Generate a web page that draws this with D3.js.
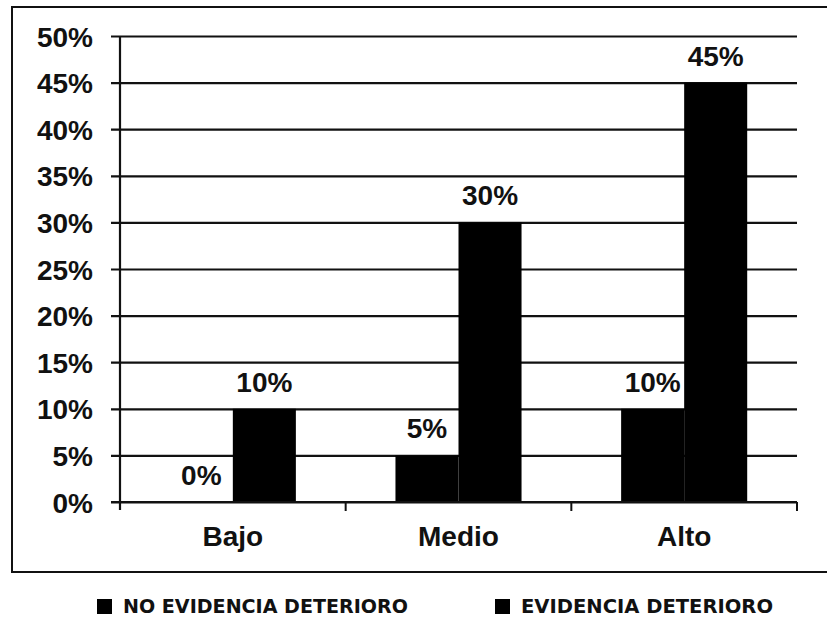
<!DOCTYPE html>
<html>
<head>
<meta charset="utf-8">
<script src="https://cdn.jsdelivr.net/npm/d3@7"></script>
<style>
  html, body { margin: 0; padding: 0; background: #fff; }
  svg { display: block; }
</style>
</head>
<body>
<svg id="chart" width="827" height="617"></svg>
<script>
// Categories, series and axis ticks
const categories = ["Bajo", "Medio", "Alto"];
const seriesNames = ["NO EVIDENCIA DETERIORO", "EVIDENCIA DETERIORO"];
const noEvidencia = [0, 5, 10];
const evidencia = [10, 30, 45];
const yTicks = [0, 5, 10, 15, 20, 25, 30, 35, 40, 45, 50];

const svg = d3.select("#chart");
const ink = "#111";
const font = "'Liberation Sans', Arial, sans-serif";
const bigSize = 28;

const plot = { left: 120, right: 797, top: 36, bottom: 502 };

// Outer frame
svg.append("rect")
  .attr("x", 12).attr("y", 7)
  .attr("width", 830).attr("height", 565)
  .attr("fill", "none").attr("stroke", ink).attr("stroke-width", 2);

const x = d3.scaleBand().domain(categories).range([plot.left, plot.right]);
const xs = d3.scaleBand().domain(seriesNames)
  .range([0, x.bandwidth()]).paddingInner(0).paddingOuter(0.79);
const y = d3.scaleLinear().domain([0, 50]).range([plot.bottom, plot.top]);

// Horizontal gridlines with y axis ticks
const yAxis = d3.axisLeft(y).tickValues(yTicks)
  .tickSize(plot.right - plot.left + 9)
  .tickFormat(d => d + "%");
const yg = svg.append("g")
  .attr("transform", `translate(${plot.right},0)`)
  .call(yAxis);
yg.select(".domain").remove();
yg.selectAll(".tick line").attr("stroke", ink).attr("stroke-width", 2.2);
yg.selectAll(".tick text")
  .attr("x", -(plot.right - plot.left) - 27)
  .attr("dy", "0.36em")
  .attr("font-family", font).attr("font-weight", "bold")
  .attr("font-size", bigSize).attr("fill", ink);

// Vertical axis line
svg.append("line")
  .attr("x1", plot.left).attr("x2", plot.left)
  .attr("y1", plot.top).attr("y2", plot.bottom + 8)
  .attr("stroke", ink).attr("stroke-width", 2.2);

// Bars
const rows = categories.map((c, i) => ({ cat: c, vals: [noEvidencia[i], evidencia[i]] }));
const groups = svg.append("g").selectAll("g").data(rows).join("g")
  .attr("transform", d => `translate(${x(d.cat)},0)`);
groups.selectAll("rect")
  .data(d => d.vals.map((v, j) => ({ s: seriesNames[j], v })))
  .join("rect")
  .attr("x", d => xs(d.s))
  .attr("width", xs.bandwidth())
  .attr("y", d => y(d.v))
  .attr("height", d => y(0) - y(d.v))
  .attr("fill", "#000");

// X axis with category boundary ticks
const xAxis = svg.append("g");
xAxis.append("line")
  .attr("x1", plot.left - 9).attr("x2", plot.right)
  .attr("y1", plot.bottom).attr("y2", plot.bottom)
  .attr("stroke", ink).attr("stroke-width", 2.2);
xAxis.selectAll("line.tk").data(categories).join("line")
  .attr("class", "tk")
  .attr("x1", d => x(d) + x.bandwidth()).attr("x2", d => x(d) + x.bandwidth())
  .attr("y1", plot.bottom).attr("y2", plot.bottom + 9)
  .attr("stroke", ink).attr("stroke-width", 2);
xAxis.selectAll("text").data(categories).join("text")
  .attr("x", d => x(d) + x.bandwidth() / 2)
  .attr("y", 546)
  .attr("text-anchor", "middle")
  .attr("font-family", font).attr("font-weight", "bold")
  .attr("font-size", bigSize).attr("fill", ink)
  .text(d => d);

// Value labels on white boxes
const labels = svg.append("g");
rows.forEach(r => {
  r.vals.forEach((v, j) => {
    const cx = x(r.cat) + xs(seriesNames[j]) + xs.bandwidth() / 2;
    const cy = y(v) - 27;
    const g = labels.append("g");
    const t = g.append("text")
      .attr("x", cx).attr("y", cy + 10)
      .attr("text-anchor", "middle")
      .attr("font-family", font).attr("font-weight", "bold")
      .attr("font-size", bigSize).attr("fill", ink)
      .text(v + "%");
    const bb = t.node().getBBox();
    g.insert("rect", "text")
      .attr("x", bb.x - 2).attr("y", cy - 16)
      .attr("width", bb.width + 4).attr("height", 32)
      .attr("fill", "#fff");
  });
});

// Legend
const legendX = [97, 495];
const legendW = [285, 252];
const legend = svg.append("g");
seriesNames.forEach((s, i) => {
  legend.append("rect")
    .attr("x", legendX[i]).attr("y", 599)
    .attr("width", 15).attr("height", 15)
    .attr("fill", "#000");
  legend.append("text")
    .attr("x", legendX[i] + 26).attr("y", 613)
    .attr("font-family", "'DejaVu Sans Condensed', 'DejaVu Sans', sans-serif")
    .attr("font-weight", "bold")
    .attr("font-size", 20).attr("fill", ink)
    .attr("textLength", legendW[i]).attr("lengthAdjust", "spacingAndGlyphs")
    .text(s);
});
</script>
</body>
</html>
